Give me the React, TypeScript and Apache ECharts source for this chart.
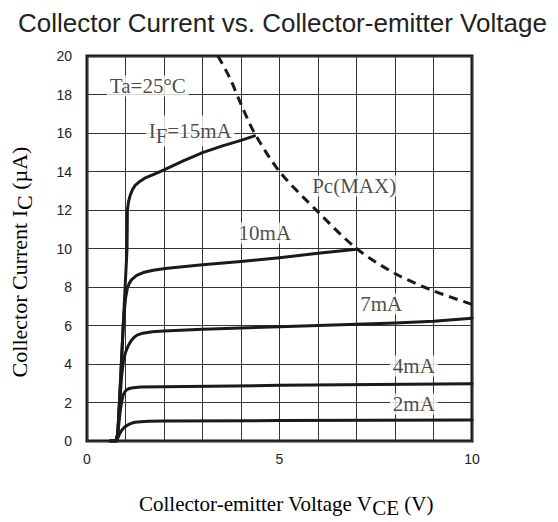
import React, { useEffect, useRef } from "react";
import * as echarts from "echarts";

// Collector-emitter voltage (V), collector current (µA)
const curve15mA: [number, number][] = [
  [0.6, 0], [0.76, 0], [0.8, 0.4], [0.85, 2.3], [0.95, 6.4], [1.04, 10], [1.05, 12],
  [1.08, 12.45], [1.12, 12.75], [1.18, 13.05], [1.25, 13.28], [1.35, 13.45], [1.5, 13.65],
  [1.75, 13.86], [2.0, 14.08], [2.5, 14.55], [3.0, 14.98], [3.5, 15.32], [4.0, 15.62],
  [4.35, 15.85],
];
const curve10mA: [number, number][] = [
  [0.6, 0], [0.76, 0], [0.8, 0.4], [0.85, 2.3], [0.95, 6.3], [1.0, 7.4], [1.05, 7.95],
  [1.1, 8.2], [1.16, 8.38], [1.29, 8.6], [1.46, 8.75], [1.72, 8.87], [2.03, 8.96],
  [3.0, 9.15], [4.0, 9.33], [5.0, 9.52], [6.0, 9.75], [7.0, 9.96],
];
const curve7mA: [number, number][] = [
  [0.6, 0], [0.76, 0], [0.8, 0.4], [0.85, 2.0], [0.9, 3.4], [0.95, 4.2], [1.0, 4.6],
  [1.07, 4.95], [1.15, 5.22], [1.22, 5.38], [1.3, 5.5], [1.45, 5.6], [1.7, 5.67],
  [2.0, 5.72], [3.0, 5.8], [4.0, 5.87], [5.0, 5.94], [6.0, 6.0], [7.0, 6.06],
  [8.0, 6.13], [9.0, 6.22], [10.0, 6.38],
];
const curve4mA: [number, number][] = [
  [0.6, 0], [0.76, 0], [0.8, 0.4], [0.86, 1.5], [0.9, 2.05], [0.94, 2.38], [0.98, 2.55],
  [1.03, 2.66], [1.1, 2.73], [1.2, 2.77], [1.4, 2.8], [2.0, 2.82], [5.0, 2.89], [10.0, 2.98],
];
const curve2mA: [number, number][] = [
  [0.6, 0], [0.76, 0], [0.8, 0.15], [0.85, 0.38], [0.9, 0.55], [0.95, 0.67], [1.0, 0.76],
  [1.07, 0.85], [1.15, 0.92], [1.25, 0.97], [1.4, 1.0], [1.6, 1.02], [2.0, 1.04],
  [5.0, 1.06], [10.0, 1.09],
];
const pcMax: [number, number][] = [
  [3.4, 20], [3.7, 18.9], [4.0, 17.5], [4.35, 16.0], [5.0, 14.0], [6.0, 11.9],
  [7.0, 10.0], [8.0, 8.7], [9.0, 7.8], [10.0, 7.1],
];

// annotation texts and their anchor points (data coordinates)
const annotationTexts = ["{n|Ta=25°C}", "{n|I}{s|F}{n|=15mA}", "{n|10mA}", "{n|Pc(MAX)}", "{n|7mA}", "{n|4mA}", "{n|2mA}"];
const annotationAt: [number, number][] = [
  [1.58, 18.44], [2.68, 16.1], [4.62, 10.8], [6.94, 13.25], [7.64, 7.12], [8.49, 3.9], [8.49, 1.92],
];

const xTicks = [0, 5, 10];

const SERIF = "'Liberation Serif', 'Times New Roman', serif";
const SANS = "'Liberation Sans', Arial, sans-serif";
const INK = "#1a1a1a";

export default function App() {
  const ref = useRef<HTMLDivElement>(null);
  useEffect(() => {
    if (!ref.current) return;
    const chart = echarts.init(ref.current, undefined, { renderer: "svg" });
    const curveSeries = [curve15mA, curve10mA, curve7mA, curve4mA, curve2mA].map((d) => ({
      type: "line",
      data: d,
      showSymbol: false,
      smooth: false,
      lineStyle: { color: INK, width: 3, join: "round", cap: "round" },
      z: 3,
    }));
    const rich = (size: number, shift: number) => ({
      n: { fontFamily: SERIF, fontSize: size, color: "#222" },
      s: { fontFamily: SERIF, fontSize: size, color: "#222", padding: [shift, 0, 0, 0] },
    });
    chart.setOption({
      animation: false,
      title: {
        text: "Collector Current vs. Collector-emitter Voltage",
        left: 13,
        top: 5,
        textStyle: { fontFamily: SANS, fontSize: 26, fontWeight: "normal", color: "#222" },
      },
      grid: {
        left: 87,
        right: 86,
        top: 56,
        bottom: 81,
        show: true,
        borderColor: INK,
        borderWidth: 3,
        backgroundColor: "transparent",
      },
      graphic: [
        {
          type: "text",
          x: 19,
          y: 262,
          rotation: Math.PI / 2,
          style: {
            text: "{n|Collector Current I}{s|C}{n| (µA)}",
            rich: rich(22, 10),
            align: "center",
            verticalAlign: "middle",
          },
        },
        {
          type: "text",
          x: 286,
          y: 504,
          style: {
            text: "{n|Collector-emitter Voltage V}{s|CE}{n| (V)}",
            rich: rich(21, 8),
            align: "center",
            verticalAlign: "middle",
          },
        },
      ],
      xAxis: {
        type: "value",
        min: 0,
        max: 10,
        interval: 1,
        axisLine: { show: false },
        axisTick: { show: false },
        splitLine: { show: true, lineStyle: { color: "#333", width: 1 } },
        axisLabel: {
          margin: 11,
          fontFamily: SANS,
          fontSize: 14,
          color: "#222",
          formatter: (v: number) => (xTicks.includes(v) ? String(v) : ""),
        },
      },
      yAxis: {
        type: "value",
        min: 0,
        max: 20,
        interval: 2,
        axisLine: { show: false },
        axisTick: { show: false },
        splitLine: { show: true, lineStyle: { color: "#333", width: 1 } },
        axisLabel: { margin: 15, fontFamily: SANS, fontSize: 14, color: "#222" },
      },
      series: [
        ...curveSeries,
        {
          type: "line",
          data: pcMax,
          showSymbol: false,
          smooth: 0.3,
          lineStyle: { color: INK, width: 3, type: [9, 6] },
          z: 3,
        },
        {
          type: "scatter",
          symbolSize: 0,
          z: 2,
          data: annotationAt.map((p, i) => ({
            value: p,
            label: {
              show: true,
              position: "inside",
              formatter: annotationTexts[i],
              backgroundColor: "#fff",
              padding: [0, 3, 0, 3],
              rich: {
                n: { fontFamily: SERIF, fontSize: 21, color: INK },
                s: { fontFamily: SERIF, fontSize: 21, color: INK, padding: [10, 0, 0, 0] },
              },
            },
          })),
        },
      ],
    });
    return () => chart.dispose();
  }, []);
  return (
    <div
      ref={ref}
      style={{ position: "absolute", left: 0, top: 0, width: 558, height: 522 }}
    />
  );
}
